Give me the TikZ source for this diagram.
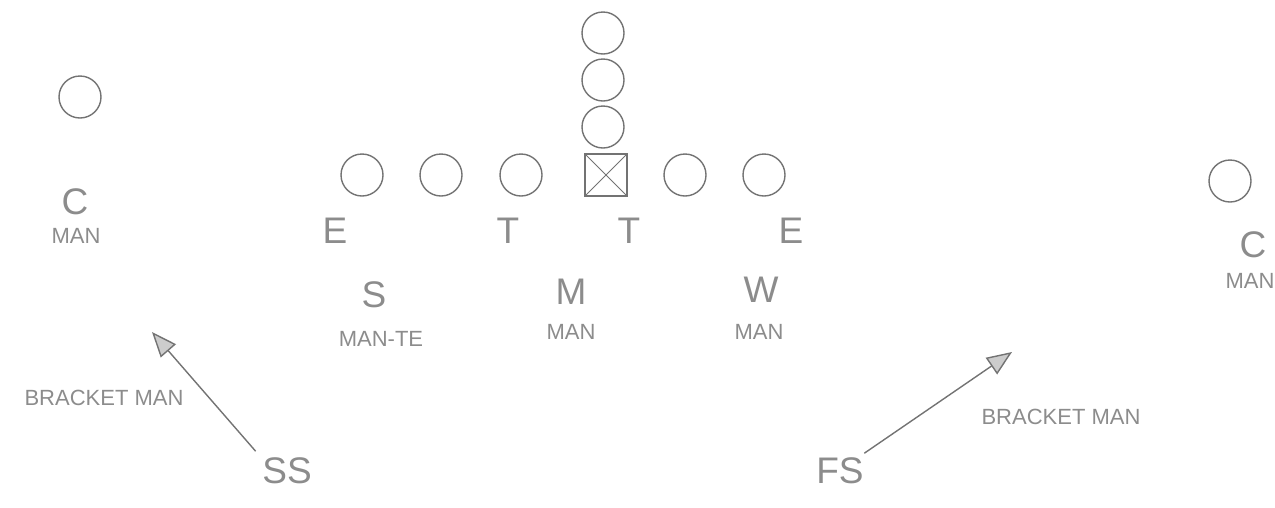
\documentclass[tikz,border=0pt]{standalone}
\usepackage{fontspec}
\setmainfont{Liberation Sans}
\usetikzlibrary{arrows.meta}
\begin{document}
\begin{tikzpicture}[x=1pt, y=-1pt, line width=1.4pt, draw=black!55,
  >={Triangle[length=25pt, width=20pt, fill=black!20]},
  player/.style={circle, draw=black!55, minimum size=42pt, inner sep=0pt},
  big/.style={text=black!45, font=\fontsize{37}{40}\selectfont, inner sep=0pt},
  small/.style={text=black!45, font=\fontsize{22}{24}\selectfont, inner sep=0pt}]
  \useasboundingbox (0,0) rectangle (1275,507);
  % offense
  \node[player] (back1) at (603,33) {};
  \node[player] (back2) at (603,80) {};
  \node[player] (back3) at (603,127) {};
  \node[player] (lineL1) at (362,175) {};
  \node[player] (lineL2) at (441,175) {};
  \node[player] (lineL3) at (521,175) {};
  \node[draw=black!55, minimum size=42pt, inner sep=0pt] (center) at (606,175) {};
  \draw[line width=0.8pt] (center.north west) -- (center.south east)
    (center.north east) -- (center.south west);
  \node[player] (lineR1) at (685,175) {};
  \node[player] (lineR2) at (764,175) {};
  \node[player] (wideL) at (80,97) {};
  \node[player] (wideR) at (1230,181) {};
  % defense
  \node[big] (endL) at (335,231) {E};
  \node[big] (tackleL) at (508,231) {T};
  \node[big] (tackleR) at (629,231) {T};
  \node[big] (endR) at (791,231) {E};
  \node[big] (cornerL) at (75,202) {C};
  \node[small] (cornerLman) at (76,236) {MAN};
  \node[big] (cornerR) at (1253,245) {C};
  \node[small] (cornerRman) at (1250,281) {MAN};
  \node[big] (sam) at (374,295) {S};
  \node[small] (samman) at (381,339) {MAN-TE};
  \node[big] (mike) at (571,292) {M};
  \node[small] (mikeman) at (571,332) {MAN};
  \node[big] (will) at (761,290) {W};
  \node[small] (willman) at (759,332) {MAN};
  \node[small] (bracketL) at (104,398) {BRACKET MAN};
  \node[small] (bracketR) at (1061,417) {BRACKET MAN};
  \node[big] (ss) at (287,471) {SS};
  \node[big] (fs) at (840,471) {FS};
  \coordinate (ssto) at (152,332);
  \coordinate (fsto) at (1012,352);
  \draw[->] ([shift={(-6pt,6pt)}]ss.north west) -- (ssto);
  \draw[->] ([shift={(0pt,4pt)}]fs.north east) -- (fsto);
\end{tikzpicture}
\end{document}
